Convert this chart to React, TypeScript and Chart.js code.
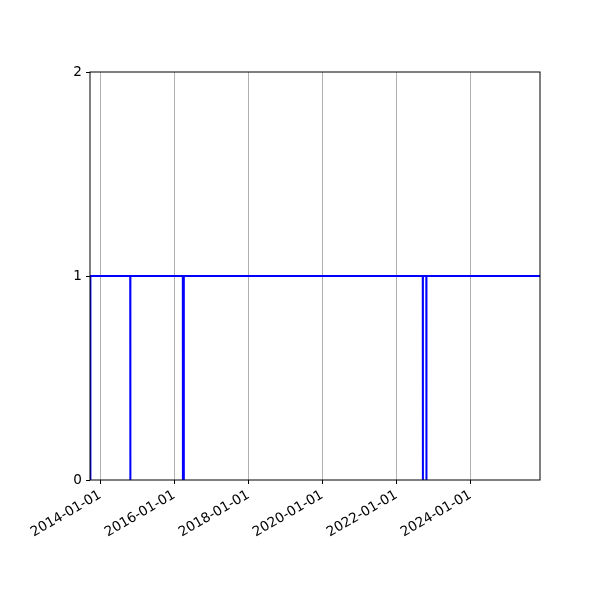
import { useEffect, useRef } from 'react'
import { Chart, registerables } from 'chart.js'

Chart.register(...registerables)

// dates where the signal changes state
const DATES = [
  '2013-09-24', '2013-09-25',
  '2014-10-23', '2014-10-24', '2014-10-25',
  '2016-03-25', '2016-03-26', '2016-03-27',
  '2016-04-03', '2016-04-04', '2016-04-05',
  '2022-09-18', '2022-09-19', '2022-09-20',
  '2022-10-23', '2022-10-24', '2022-10-25',
  '2025-11-18',
]
const VALUES = [
  0, 1,
  1, 0, 1,
  1, 0, 1,
  1, 0, 1,
  1, 0, 1,
  1, 0, 1,
  1,
]
const X_MIN = '2013-09-21'
const TICK_YEARS = [2014, 2016, 2018, 2020, 2022, 2024]
const Y_TICKS = [0, 1, 2]

const FONT = { family: 'DejaVu Sans', size: 13.6 }

const frame = {
  id: 'frame',
  afterDraw(chart: Chart) {
    const { ctx, chartArea: a } = chart
    ctx.save()
    ctx.strokeStyle = '#000'
    ctx.lineWidth = 1
    ctx.strokeRect(a.left, a.top, a.right - a.left, a.bottom - a.top)
    ctx.restore()
  },
}

export default function App() {
  const canvasRef = useRef<HTMLCanvasElement>(null)

  useEffect(() => {
    document.body.style.margin = '0'
    if (!canvasRef.current) return
    const xs = DATES.map((d) => Date.parse(d))
    const chart = new Chart(canvasRef.current, {
      type: 'line',
      data: {
        datasets: [{
          data: xs.map((x, i) => ({ x, y: VALUES[i] })),
          borderColor: '#0000ff',
          borderWidth: 2,
          pointRadius: 0,
          tension: 0,
          fill: false,
        }],
      },
      options: {
        animation: false,
        responsive: true,
        maintainAspectRatio: false,
        layout: { padding: { left: 0, top: 72, right: 60, bottom: 0 } },
        plugins: { legend: { display: false }, tooltip: { enabled: false } },
        scales: {
          x: {
            type: 'linear',
            min: Date.parse(X_MIN),
            max: xs[xs.length - 1],
            afterBuildTicks: (scale) => {
              scale.ticks = TICK_YEARS.map((y) => ({ value: Date.UTC(y, 0, 1) }))
            },
            afterFit: (scale) => { scale.height = 120 },
            grid: { color: '#b0b0b0', lineWidth: 1, tickColor: '#000', tickLength: 4 },
            border: { display: false },
            ticks: {
              font: FONT,
              color: '#000',
              minRotation: 30,
              maxRotation: 30,
              autoSkip: false,
              padding: 3,
              callback: (v) => new Date(Number(v)).toISOString().slice(0, 10),
            },
          },
          y: {
            min: 0,
            max: 2,
            afterBuildTicks: (scale) => {
              scale.ticks = Y_TICKS.map((value) => ({ value }))
            },
            afterFit: (scale) => { scale.width = 90 },
            grid: { drawOnChartArea: false, color: '#000', tickLength: 4 },
            border: { display: false },
            ticks: { font: FONT, color: '#000', padding: 4 },
          },
        },
      },
      plugins: [frame],
    })
    return () => { chart.destroy() }
  }, [])

  return (
    <div style={{ position: 'relative', width: 600, height: 600 }}>
      <canvas ref={canvasRef} />
    </div>
  )
}
